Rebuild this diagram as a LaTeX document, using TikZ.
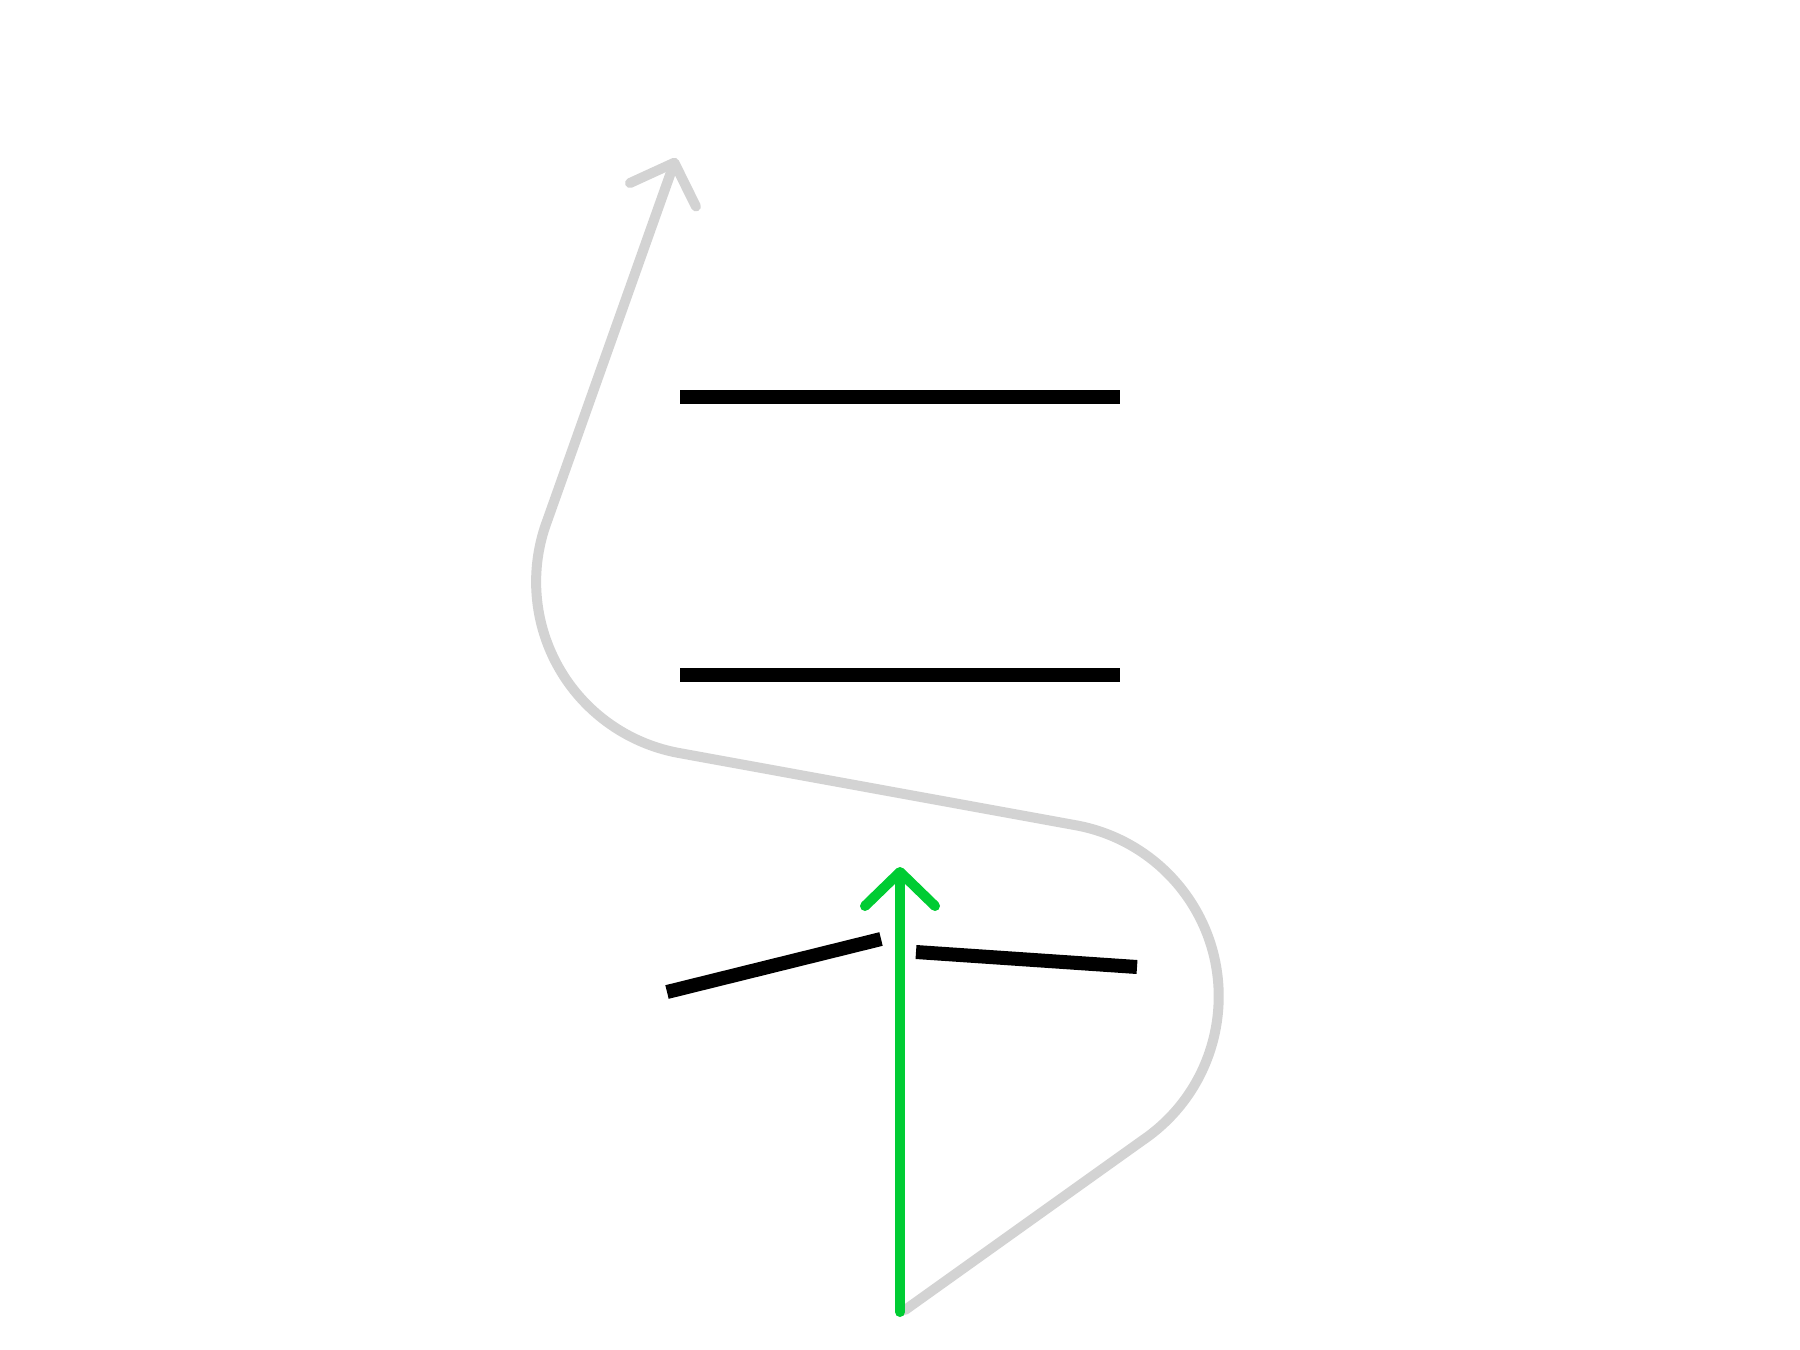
\documentclass[tikz,border=0pt]{standalone}
\usetikzlibrary{arrows.meta}
\usepackage{xcolor}
\definecolor{trailgray}{RGB}{211,211,211}
\definecolor{raygreen}{RGB}{0,204,51}

\begin{document}
\begin{tikzpicture}[x=0.1mm,y=-0.1mm,
  barb/.style={-{Straight Barb[length=3.4mm,width=7mm,round]}},
  plate/.style={line width=1.4mm,black},
  trail/.style={line width=1mm,trailgray,line cap=round,line join=round}]
\useasboundingbox (0,0) rectangle (1800,1350);

%plates
\draw[plate] (680,397) -- (1120,397);
\draw[plate] (680,675) -- (1120,675);
\draw[plate] (667,992) -- (881,939);
\draw[plate] (916,952) -- (1137,967);

%gray trail
\coordinate (start) at (905,1310);
\coordinate (tip) at (676,158);
\draw[trail,barb] (start) -- (1143,1140) arc[start angle=55.6,end angle=-79.7,radius=174]
  -- (679,753) arc[start angle=100.3,end angle=200.6,radius=174] -- (tip);

%green arrow
\coordinate (foot) at (900,1312);
\coordinate (head) at (900,867);
\draw[line width=1mm,raygreen,line cap=round,barb] (foot) -- (head);
\end{tikzpicture}
\end{document}
